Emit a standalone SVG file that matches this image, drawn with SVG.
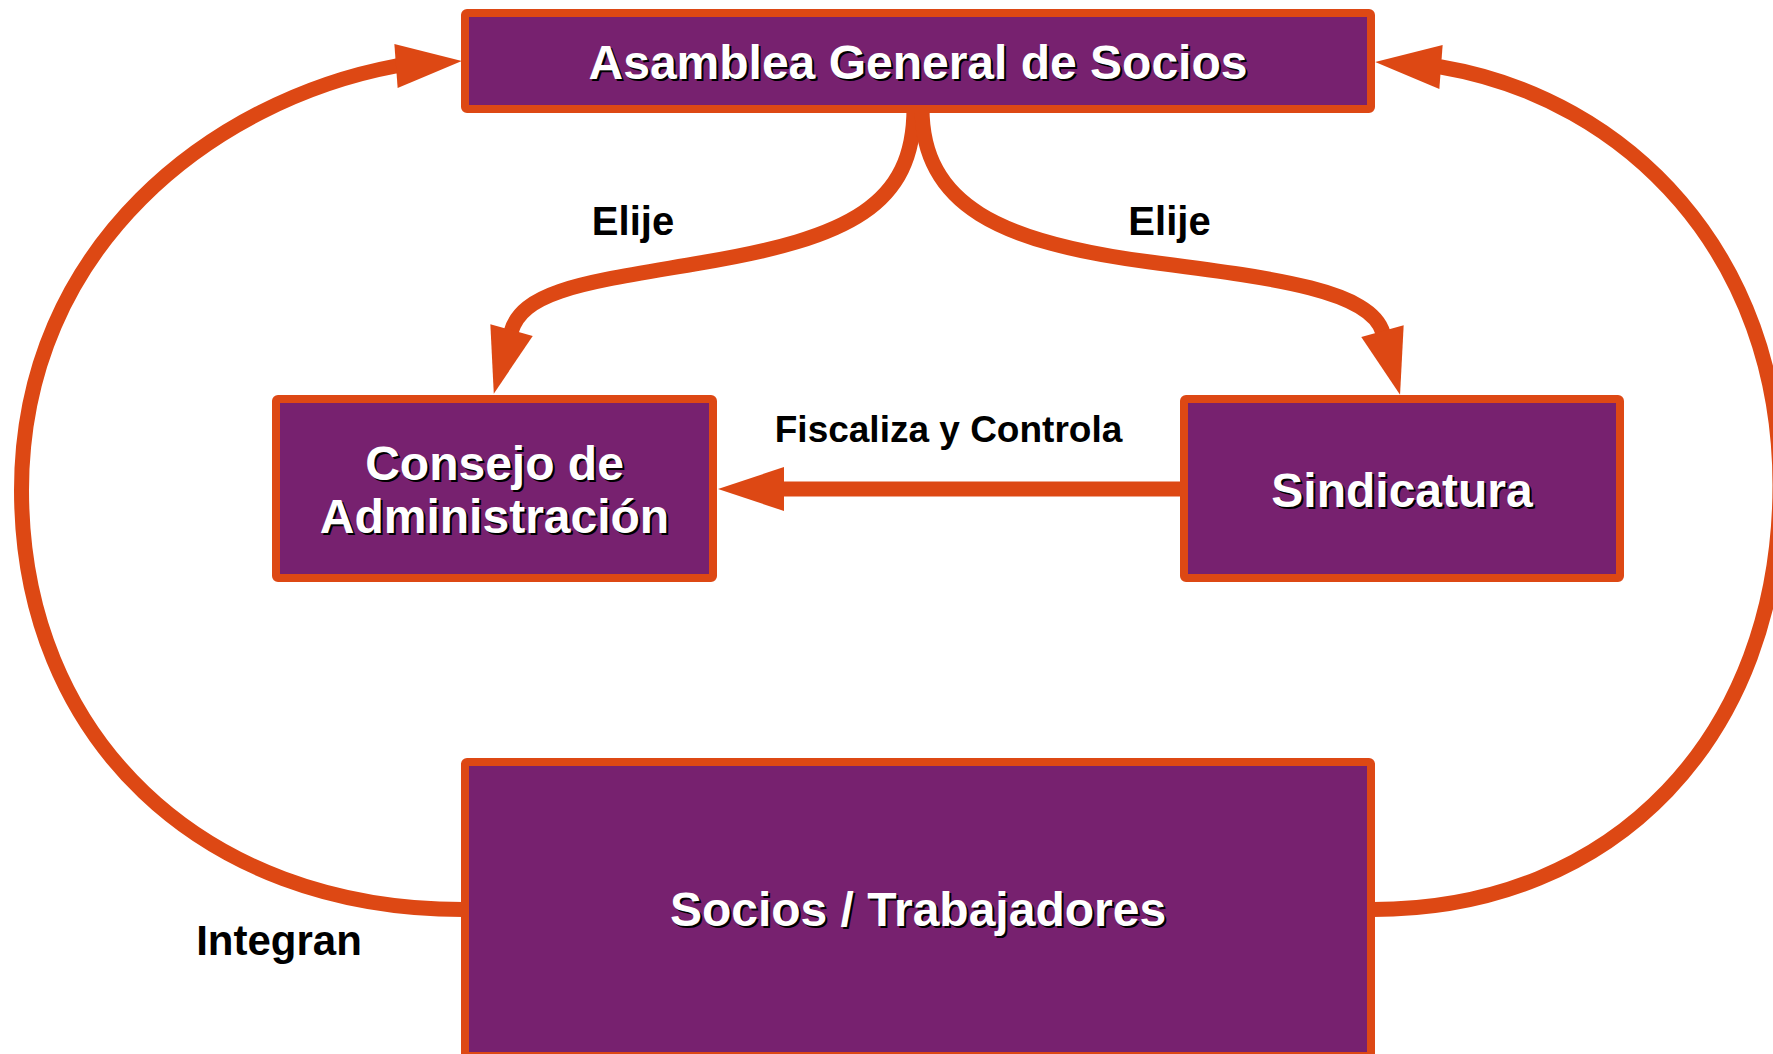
<svg xmlns="http://www.w3.org/2000/svg" width="1773" height="1054" viewBox="0 0 1773 1054">
  <style>
    .box { fill: #77216f; stroke: #dd4814; stroke-width: 8; }
    .t { font-family: "Liberation Sans", Arial, sans-serif; font-weight: bold; font-size: 48px; text-anchor: middle; }
    .tw { fill: #ffffff; }
    .ts { fill: #000000; }
    .lbl { font-family: "Liberation Sans", Arial, sans-serif; font-weight: bold; fill: #000000; text-anchor: middle; }
    .conn { fill: none; stroke: #dd4814; stroke-width: 15; }
    .loop { fill: none; stroke: #dd4814; stroke-width: 15; }
  </style>
  <defs>
    <marker id="ah" markerUnits="userSpaceOnUse" markerWidth="70" markerHeight="48" refX="2" refY="24" orient="auto" overflow="visible">
      <path d="M0,2 L66,24 L0,46 Z" fill="#dd4814"/>
    </marker>
  </defs>
  <rect width="1773" height="1054" fill="#ffffff"/>

  <g id="connectors">
    <path id="c-elije-left" class="conn" d="M914,108 C914,205 850,238 700,263 C590,282 523,289 511,332" marker-end="url(#ah)"/>
    <path id="c-elije-right" class="conn" d="M922,108 C922,205 1000,242.5 1150,262 C1270,277.6 1371,289.6 1383,333" marker-end="url(#ah)"/>
    <path id="c-fiscaliza" class="conn" d="M1182,489 L782,489" marker-end="url(#ah)"/>
    <path id="c-integran-left" class="loop" d="M463,909.5 C201,909.5 21.5,737 21.5,490 C21.5,245 215,100 396,66 L398,65.85" marker-end="url(#ah)"/>
    <path id="c-integran-right" class="loop" d="M1373,909.5 C1615,909.5 1780,735 1780,485 C1780,255 1628,98.8 1441,67 L1439,66.85" marker-end="url(#ah)"/>
  </g>

  <g id="node-asamblea">
    <rect class="box" x="465" y="13" width="906" height="96" rx="2"/>
    <text class="t ts" x="920" y="81">Asamblea General de Socios</text>
    <text class="t tw" x="918" y="79">Asamblea General de Socios</text>
  </g>

  <g id="node-consejo">
    <rect class="box" x="276" y="399" width="437" height="179" rx="2"/>
    <text class="t ts" x="496.5" y="482">Consejo de</text>
    <text class="t tw" x="494.5" y="480">Consejo de</text>
    <text class="t ts" x="496.5" y="535">Administración</text>
    <text class="t tw" x="494.5" y="533">Administración</text>
  </g>

  <g id="node-sindicatura">
    <rect class="box" x="1184" y="399" width="436" height="179" rx="2"/>
    <text class="t ts" x="1404" y="509">Sindicatura</text>
    <text class="t tw" x="1402" y="507">Sindicatura</text>
  </g>

  <g id="node-socios">
    <rect class="box" x="465" y="762" width="906" height="294" rx="2"/>
    <text class="t ts" x="920" y="928">Socios / Trabajadores</text>
    <text class="t tw" x="918" y="926">Socios / Trabajadores</text>
  </g>

  <g id="labels">
    <text class="lbl" x="633" y="235" font-size="40">Elije</text>
    <text class="lbl" x="1169.5" y="235" font-size="40">Elije</text>
    <text class="lbl" x="948.5" y="442" font-size="37">Fiscaliza y Controla</text>
    <text class="lbl" x="279" y="955" font-size="42">Integran</text>
  </g>
</svg>
